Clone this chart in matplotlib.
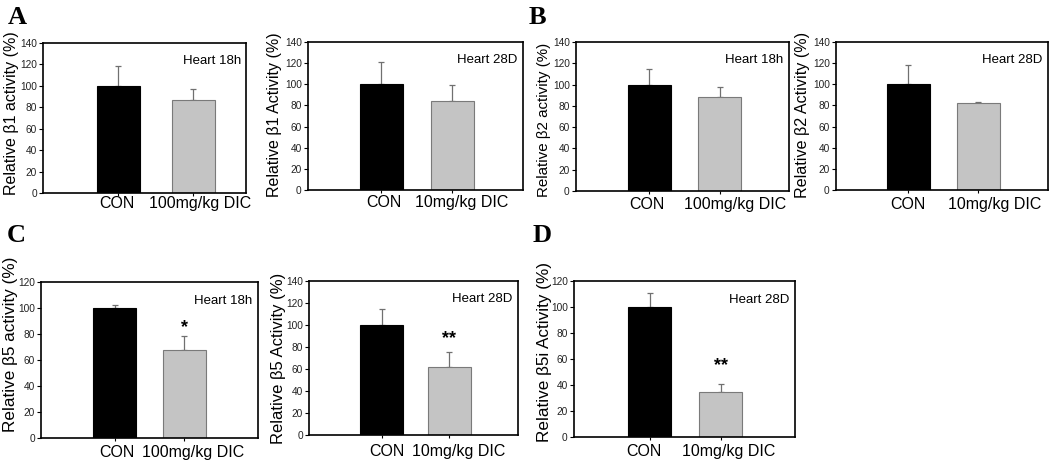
import matplotlib
matplotlib.use("Agg")
import matplotlib.pyplot as plt

plt.rcParams['font.family'] = ['Liberation Sans', 'DejaVu Sans']

# ---- data ----
groups_18h = ["CON", "100mg/kg DIC"]
groups_28d = ["CON", "10mg/kg DIC"]

b1_18h_mean = [100, 86.5]
b1_18h_err = [19, 10.5]
b1_28d_mean = [100, 84.5]
b1_28d_err = [21, 15]
b2_18h_mean = [100, 88]
b2_18h_err = [15, 10]
b2_28d_mean = [100, 82.5]
b2_28d_err = [18.5, 1]
b5_18h_mean = [100, 67.5]
b5_18h_err = [2, 11]
b5_28d_mean = [100, 62]
b5_28d_err = [15, 13.5]
b5i_28d_mean = [100, 35]
b5i_28d_err = [10.5, 5.5]

ylabels = ["Relative \u03b21 activity (%)", "Relative \u03b21 Activity (%)",
           "Relative \u03b22 activity (%)", "Relative \u03b22 Activity (%)",
           "Relative \u03b25 activity (%)", "Relative \u03b25 Activity (%)",
           "Relative \u03b25i Activity (%)"]
titles = ["Heart 18h", "Heart 28D", "Heart 18h", "Heart 28D",
          "Heart 18h", "Heart 28D", "Heart 28D"]
sig_marks = ["", "", "", "", "*", "**", "**"]

W, H = 1050, 463
PT = 0.72  # points per pixel at 100 dpi
fig = plt.figure(figsize=(W / 100, H / 100), dpi=100)

# ---- layout ----
# pixel rects (left, top, right, bottom), bar centre fractions, ymax
panels = [
    ((43, 43, 246, 193), (0.37, 0.74), 140, groups_18h, b1_18h_mean, b1_18h_err),
    ((308, 42, 523, 190), (0.34, 0.67), 140, groups_28d, b1_28d_mean, b1_28d_err),
    ((576, 42, 789, 191), (0.345, 0.676), 140, groups_18h, b2_18h_mean, b2_18h_err),
    ((836, 42, 1048, 190), (0.34, 0.672), 140, groups_28d, b2_28d_mean, b2_28d_err),
    ((41, 282, 258, 438), (0.34, 0.66), 120, groups_18h, b5_18h_mean, b5_18h_err),
    ((309, 281, 518, 435), (0.347, 0.67), 140, groups_28d, b5_28d_mean, b5_28d_err),
    ((574, 281, 795, 437), (0.342, 0.663), 120, groups_28d, b5i_28d_mean, b5i_28d_err),
]
sig_offsets = [0, 0, 0, 0, 6.5, 12.5, 14.5]
# x label horizontal shifts (px) for [CON, DIC], and gap below axis (px)
xlab_shift = [(-1, 7), (2.5, 10), (-3, 15), (0, 16.5), (1.7, 8.5), (5.5, 9.5), (-5.5, 8)]
xlab_gap = [3, 5, 6, 7, 7, 9, 7]
# y label centres (px) and font sizes
ylab_pos = [(11.5, 113.5), (274.5, 115), (544, 120), (803, 114.5),
            (10.5, 344), (278, 358), (544, 352.5)]
ylab_size = [11.5, 11.5, 10.9, 11.6, 12.3, 12.0, 12.3]

for i, (rect, fr, ymax, groups, mean, err) in enumerate(panels):
    l, t, r, b = rect
    ax = fig.add_axes([l / W, 1 - b / H, (r - l) / W, (b - t) / H])
    f0, f1 = fr
    unit = f1 - f0
    xlo = -f0 / unit
    xhi = (1 - f0) / unit
    bw = 43 / ((r - l) * unit)
    x = [0, 1]
    ax.bar(x, mean, width=bw, color=["black", "#c4c4c4"],
           edgecolor=["black", "#7a7a7a"], linewidth=0.8, zorder=2)
    ax.errorbar(x, mean, yerr=[[0, 0], err], fmt="none", ecolor="#707070",
                elinewidth=0.9, capsize=2.5, capthick=0.9, zorder=1)
    ax.set_xlim(xlo, xhi)
    ax.set_ylim(0, ymax)
    ax.set_yticks(range(0, ymax + 1, 20))
    ax.set_xticks(x)
    ax.set_xticklabels(["", ""])
    ax.tick_params(axis="y", labelsize=7.3, length=3, width=0.8, pad=1.5,
                   labelcolor="#222222")
    ax.tick_params(axis="x", length=2.5, width=0.8)
    for s in ax.spines.values():
        s.set_linewidth(1.2)
    for j, g in enumerate(groups):
        ax.annotate(g, xy=(x[j], 0), xycoords=("data", "axes fraction"),
                    xytext=(xlab_shift[i][j] * PT, -xlab_gap[i] * PT),
                    textcoords="offset points", ha="center", va="top",
                    fontsize=11.5, annotation_clip=False)
    px, py = ylab_pos[i]
    fig.text(px / W, 1 - py / H, ylabels[i], rotation=90, ha="center",
             va="center", fontsize=ylab_size[i])
    ax.text(0.975, 0.88, titles[i], transform=ax.transAxes, ha="right",
            va="center", fontsize=9.5)
    if sig_marks[i]:
        ax.text(1, mean[1] + err[1] + sig_offsets[i], sig_marks[i],
                ha="center", va="center", fontsize=13, fontweight="bold")

letters = [("A", 8, 6), ("B", 529, 6), ("C", 7, 224), ("D", 533, 224)]
for lab, px, py in letters:
    fig.text(px / W, 1 - py / H, lab, ha="left", va="top", fontsize=19,
             fontweight="bold", family="Liberation Serif")

fig.savefig("out.png", dpi=100)
